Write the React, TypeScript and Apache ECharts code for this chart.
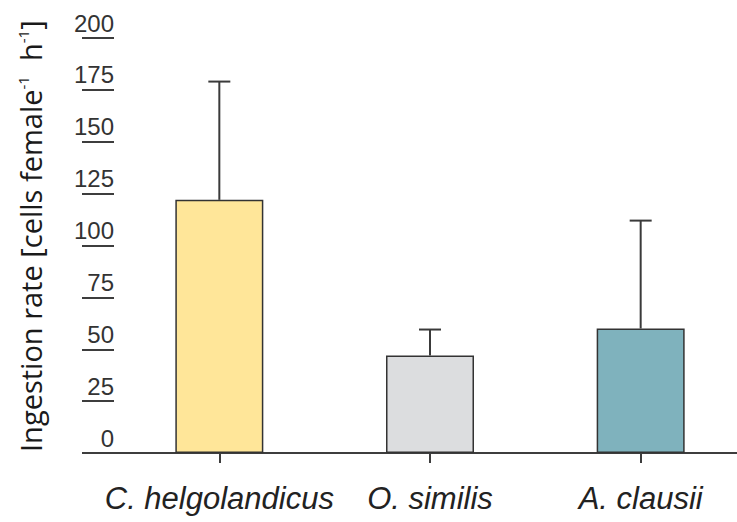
import React, { useEffect, useRef } from "react";
import * as echarts from "echarts";

// Species on the x axis
const species = ["C. helgolandicus", "O. similis", "A. clausii"];
// Mean ingestion rate (cells female^-1 h^-1)
const meanRate = [122, 47, 60];
// Upper end of the error bar (mean + SD)
const upperRate = [179, 59.5, 112];
// Bar fill colours
const barColors = ["#FFE699", "#DCDDDF", "#7FB2BD"];
// Y axis scale
const yMin = 0;
const yMax = 200;
const yStep = 25;

export default function App() {
  const ref = useRef<HTMLDivElement>(null);

  useEffect(() => {
    if (!ref.current) return;
    const chart = echarts.init(ref.current, undefined, { renderer: "svg" });

    const axisColor = "#3d3d3d";

    chart.setOption({
      animation: false,
      backgroundColor: "#ffffff",
      grid: { left: 114, right: 0, top: 38, bottom: 69 },
      xAxis: {
        type: "category",
        data: species,
        axisLine: { show: true, lineStyle: { color: axisColor, width: 2 } },
        axisTick: {
          show: true,
          alignWithLabel: true,
          length: 10,
          lineStyle: { color: axisColor, width: 2 },
        },
        axisLabel: {
          interval: 0,
          hideOverlap: false,
          margin: 30,
          fontSize: 31,
          fontStyle: "italic",
          fontFamily: "Liberation Sans, Arial, sans-serif",
          color: "#222222",
        },
      },
      yAxis: {
        type: "value",
        min: yMin,
        max: yMax,
        interval: yStep,
        splitLine: { show: false },
        axisLine: { show: false },
        axisTick: {
          show: true,
          length: 32,
          lineStyle: { color: axisColor, width: 2 },
        },
        axisLabel: {
          margin: 0,
          align: "right",
          verticalAlign: "bottom",
          padding: [0, 0, 3, 0],
          fontSize: 24,
          fontFamily: "Liberation Sans, Arial, sans-serif",
          color: "#333333",
        },
      },
      graphic: [
        {
          // Rotated axis title, reading upwards from the x axis
          type: "text",
          x: 30,
          y: 452,
          rotation: Math.PI / 2,
          style: {
            text: "Ingestion rate [cells female{sup|-1}  h{sup|-1}]",
            align: "left",
            verticalAlign: "middle",
            fontSize: 29,
            fontFamily: "Open Sans, sans-serif",
            fill: "#1a1a1a",
            rich: {
              sup: {
                fontSize: 15,
                fontFamily: "Open Sans, sans-serif",
                fill: "#1a1a1a",
                verticalAlign: "top",
              },
            },
          },
        },
      ],
      series: [
        {
          type: "bar",
          barWidth: 88,
          data: meanRate.map((v, i) => ({
            value: v,
            itemStyle: {
              color: barColors[i],
              borderColor: "#333333",
              borderWidth: 1.5,
            },
          })),
          z: 2,
        },
        {
          type: "custom",
          data: meanRate.map((v, i) => [i, v, upperRate[i]]),
          renderItem: (params: any, api: any) => {
            const idx = api.value(0);
            const base = api.coord([idx, api.value(1)]);
            const top = api.coord([idx, api.value(2)]);
            const capHalf = 11;
            const style = { stroke: "#3a3a3a", lineWidth: 2 };
            return {
              type: "group",
              children: [
                {
                  type: "line",
                  shape: { x1: base[0], y1: base[1], x2: top[0], y2: top[1] },
                  style,
                },
                {
                  type: "line",
                  shape: {
                    x1: top[0] - capHalf,
                    y1: top[1],
                    x2: top[0] + capHalf,
                    y2: top[1],
                  },
                  style,
                },
              ],
            };
          },
          z: 3,
        },
      ],
    });

    return () => chart.dispose();
  }, []);

  // The plot area runs a little past the right edge of the window, so the
  // x axis line reaches the edge and the category bands keep their spacing.
  return (
    <div
      ref={ref}
      style={{ position: "fixed", left: 0, top: 0, width: 746, height: 522 }}
    />
  );
}
